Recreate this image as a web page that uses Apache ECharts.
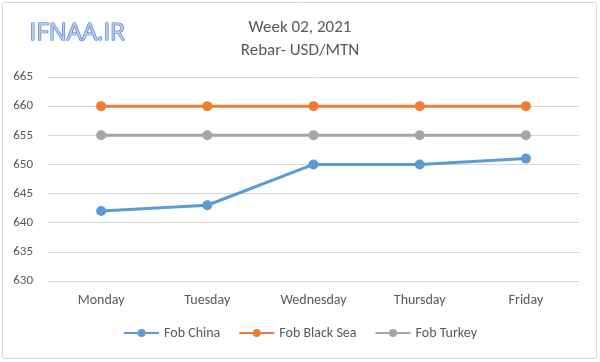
<!DOCTYPE html>
<html><head><meta charset="utf-8">
<script src="https://cdn.jsdelivr.net/npm/echarts@6/dist/echarts.min.js"></script>
<style>html,body{margin:0;padding:0;background:#fff}#c{width:600px;height:362px}</style>
</head><body><div id="c"></div>
<script>
const categories = ['Monday','Tuesday','Wednesday','Thursday','Friday'];
const fobChina = [642, 643, 650, 650, 651];
const fobBlackSea = [660, 660, 660, 660, 660];
const fobTurkey = [655, 655, 655, 655, 655];
const seriesNames = ['Fob China','Fob Black Sea','Fob Turkey'];
const colors = ['#5B9BD5','#ED7D31','#A5A5A5'];

const chart = echarts.init(document.getElementById('c'), null, {renderer:'canvas'});
const font = 'Calibri, Carlito, "Open Sans", "DejaVu Sans", sans-serif';
function mk(name, data, color){
  return {name, type:'line', data, color, symbol:'circle', symbolSize:10,
    lineStyle:{width:3, color}, itemStyle:{color}, emphasis:{disabled:true}};
}
chart.setOption({
  animation:false,
  graphic:[
    {type:'rect', shape:{x:2.5,y:2.5,width:594,height:356,r:2}, style:{fill:'none', stroke:'#d9d9d9', lineWidth:1}},
    {type:'text', left:29, top:21, style:{text:'IFNAA.IR', font:'24px "Open Sans", sans-serif', fill:'#b7cdf0', stroke:'#3f72c8', lineWidth:1.2}}
  ],
  title:{
    text:'Week 02, 2021', subtext:'Rebar- USD/MTN', left:'center', top:14, itemGap:6,
    textStyle:{fontSize:17, fontWeight:'normal', color:'#595959', fontFamily:font},
    subtextStyle:{fontSize:17, color:'#595959', fontFamily:font}
  },
  legend:{
    bottom:17, itemWidth:35, itemHeight:10, itemGap:18,
    textStyle:{fontSize:14, color:'#595959', fontFamily:font},
    data:seriesNames
  },
  grid:{left:48, right:21, top:77, bottom:81, containLabel:false},
  xAxis:{
    type:'category', data:categories, boundaryGap:true,
    axisLine:{show:false}, axisTick:{show:false},
    axisLabel:{color:'#595959', fontSize:14, margin:12, fontFamily:font}
  },
  yAxis:{
    type:'value', min:630, max:665, interval:5,
    axisLine:{show:false}, axisTick:{show:false},
    axisLabel:{color:'#595959', fontSize:13, margin:15, fontFamily:font},
    splitLine:{lineStyle:{color:'#d9d9d9', width:1}}
  },
  series:[
    mk(seriesNames[0], fobChina, colors[0]),
    mk(seriesNames[1], fobBlackSea, colors[1]),
    mk(seriesNames[2], fobTurkey, colors[2])
  ]
});
</script></body></html>
